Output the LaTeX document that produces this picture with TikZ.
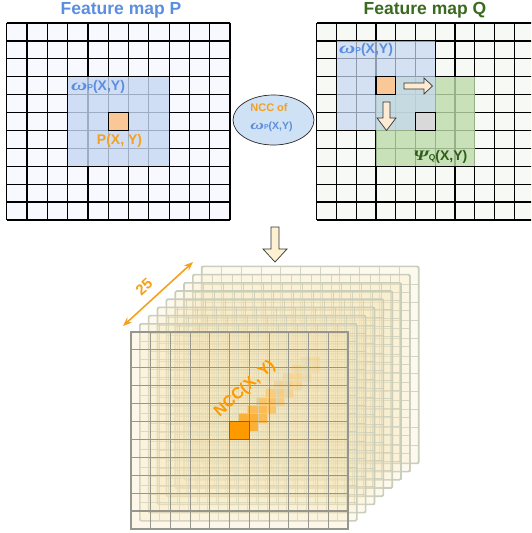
\documentclass[tikz,border=0pt]{standalone}
\usepackage{fontspec}
\usepackage{graphicx}
\setmainfont{Liberation Sans}
\newfontfamily\grkfont{Liberation Serif}
\usetikzlibrary{arrows.meta,shapes.geometric}
\definecolor{pblue}{HTML}{5B8EE0}
\definecolor{qgreen}{HTML}{3A6A1F}
\definecolor{psigreen}{HTML}{2F5E1A}
\definecolor{lblorange}{HTML}{F5A01E}
\definecolor{winblue}{HTML}{C6D8F2}
\definecolor{wingreen}{HTML}{BEDCAB}
\definecolor{cellorange}{HTML}{F9C896}
\definecolor{cellgray}{HTML}{D9D9D9}
\definecolor{bgP}{HTML}{F7F9FE}
\definecolor{bgQ}{HTML}{F7F9F4}
\definecolor{arrowfill}{HTML}{FDEBD3}
\definecolor{downfill}{HTML}{FDF1D2}
\definecolor{cream}{HTML}{F6E6B8}
\definecolor{layerline}{HTML}{C9CDBB}
\definecolor{frontline}{HTML}{96968C}
\definecolor{nccorange}{HTML}{FF9900}
\definecolor{ellfill}{HTML}{CFE1F4}
\newcommand{\mygrid}[6]{%
  \foreach \i in {0,...,#5}{%
    \draw[#6] ({#1+\i*#3},#2) -- ({#1+\i*#3},{#2+#5*#4});
    \draw[#6] (#1,{#2+\i*#4}) -- ({#1+#5*#3},{#2+\i*#4});
  }}
\newcommand{\wlab}[3]{\scalebox{1.4}[1]{\grkfont\bfseries\itshape\fontsize{#3}{#3}\selectfont ω}{\fontsize{#1}{#1}\selectfont #2}(X,Y)}
\newcommand{\psilab}{\scalebox{1.35}[1]{\grkfont\bfseries\itshape\fontsize{14.5}{14.5}\selectfont Ψ}{\fontsize{8.5}{8.5}\selectfont Q}(X,Y)}
\tikzset{
  title/.style={font=\fontsize{17.5}{19}\selectfont\bfseries, inner sep=0},
  lbl/.style={font=\fontsize{14}{15}\selectfont\bfseries, inner sep=0},
  blockarrow/.style={draw=black!80, line width=0.7pt, line join=miter},
  biggrid/.style={black, line width=1.2pt},
}
\begin{document}
\begin{tikzpicture}[x=1pt,y=-1pt]
\useasboundingbox (0,0) rectangle (531,533);
\clip (0,0) rectangle (531,533);
% ---------- Feature map P ----------
\fill[bgP] (6.7,23) rectangle (230,220);
\mygrid{6.7}{23}{20.3}{17.9}{11}{biggrid}
\fill[winblue, fill opacity=0.8] (67.6,76.7) rectangle (169.1,166.2);
\draw[black, line width=1.1pt, fill=cellorange] (108.2,112.5) rectangle (128.5,130.4);
\node[title, text=pblue] (titleP) at (121,10) {Feature map P};
\node[lbl, text=pblue, anchor=west] (wP) at (71,87) {\wlab{8.5}{P}{16}};
\node[lbl, text=lblorange] (pxy) at (119.5,141) {P(X, Y)};
% ---------- Feature map Q ----------
\fill[bgQ] (316.7,23) rectangle (534,220);
\mygrid{316.7}{23}{19.77}{17.9}{11}{biggrid}
\fill[wingreen, fill opacity=0.8] (376,76.7) rectangle (474.9,166.2);
\fill[winblue, fill opacity=0.72] (336.5,40.9) rectangle (435.3,130.4);
\draw[black, line width=1.1pt, fill=cellorange] (376,76.7) rectangle (395.8,94.6);
\draw[black, line width=1.1pt, fill=cellgray] (415.6,112.5) rectangle (435.3,130.4);
\draw[blockarrow, fill=arrowfill] (404,83) -- (424,83) -- (424,78) -- (432.5,86) -- (424,94) -- (424,89) -- (404,89) -- cycle;
\draw[blockarrow, fill=arrowfill] (383,102) -- (390,102) -- (390,118) -- (396,118) -- (386.5,130.5) -- (377,118) -- (383,118) -- cycle;
\node[title, text=qgreen] (titleQ) at (425,10) {Feature map Q};
\node[lbl, text=pblue, anchor=west] (wQ) at (339,50) {\wlab{8.5}{P}{16}};
\node[lbl, text=psigreen, anchor=west] (psiQ) at (413,157) {\psilab};
% ---------- NCC ellipse ----------
\node[ellipse, draw=black!85, line width=0.7pt, fill=ellfill, minimum width=81, minimum height=50, inner sep=0] (ell) at (273.5,120) {};
\node[font=\fontsize{11}{12}\selectfont\bfseries, text=lblorange, inner sep=0] (nccof) at (269,107.5) {NCC of};
\node[font=\fontsize{10.5}{12}\selectfont\bfseries, text=pblue, inner sep=0] (nccw) at (271.5,127) {\wlab{7}{P}{13.5}};
% ---------- down arrow ----------
\draw[blockarrow, fill=downfill] (271,227) -- (279,227) -- (279,249) -- (287,249) -- (275,262) -- (263,249) -- (271,249) -- cycle;
% ---------- stack of 25 maps ----------
\foreach \k in {8,7,...,1}{
  \pgfmathsetmacro\ox{131+8.84*\k}
  \pgfmathsetmacro\oy{332-8.2*\k}
  \fill[cream, fill opacity=0.24, rounded corners=1.5pt] (\ox,\oy) rectangle ++(217,197);
  \fill[nccorange] ({\ox+5*19.73},{\oy+5*17.9}) rectangle ++(19.73,17.9);
  \mygrid{\ox}{\oy}{19.73}{17.9}{11}{layerline, line width=0.8pt, opacity=0.8}
  \draw[layerline, line width=1.6pt, rounded corners=1.5pt] (\ox,\oy) rectangle ++(217,197);
}
\fill[cream, fill opacity=0.3] (131,332) rectangle ++(217,197);
\mygrid{131}{332}{19.73}{17.9}{11}{frontline, line width=1.1pt}
\draw[frontline, line width=1.5pt] (131,332) rectangle ++(217,197);
\draw[black!60, line width=1.1pt, fill=nccorange] (229.65,421.5) rectangle ++(19.73,17.9);
\coordinate (d1) at (123,326);
\coordinate (d2) at (193,262);
\draw[lblorange, line width=1.6pt, {Stealth[length=9pt,width=7pt]}-{Stealth[length=9pt,width=7pt]}] (d1) -- (d2);
\node[font=\fontsize{15}{16}\selectfont\bfseries, text=lblorange, rotate=42, inner sep=0] (n25) at (144,287) {25};
\node[font=\fontsize{16}{18}\selectfont\bfseries, text=nccorange, rotate=42, inner sep=0] (nccxy) at (245,389) {NCC(X, Y)};
\end{tikzpicture}
\end{document}
